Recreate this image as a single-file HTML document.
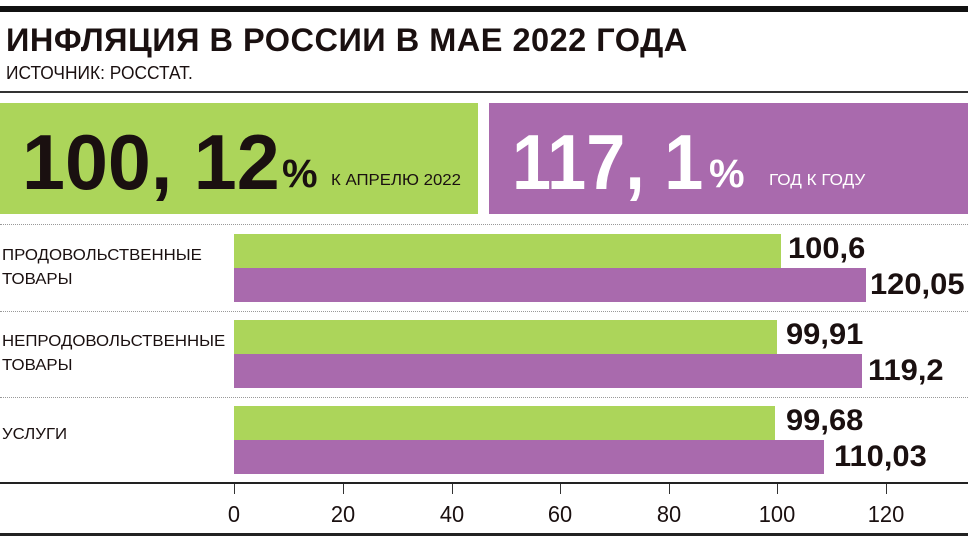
<!DOCTYPE html>
<html><head><meta charset="utf-8"><style>
body{margin:0;width:968px;height:544px;background:#fff;position:relative;overflow:hidden;font-family:"Liberation Sans","DejaVu Sans",sans-serif;color:#1a1010}
div{position:absolute}
.g{background:#acd55a}.p{background:#a96aad}
.lab{font-size:16px;line-height:24px;left:2px;transform:scaleX(1.05);transform-origin:left;white-space:nowrap}
.v{font-weight:bold;font-size:30px;transform:scaleX(1.03);transform-origin:left;white-space:nowrap}
.dot{left:0;width:968px;border-top:1px dotted #999;height:0}
.t{font-size:23px;top:501px;width:60px;text-align:center;transform:scaleX(0.95)}
.tk{top:484px;width:1px;height:10px;background:#333}
</style></head><body>
<div style="left:0;top:6px;width:968px;height:6px;background:#111"></div>
<div style="left:6px;top:22px;font-size:32.5px;font-weight:bold;letter-spacing:0.5px;white-space:nowrap">ИНФЛЯЦИЯ В РОССИИ В МАЕ 2022 ГОДА</div>
<div style="left:6px;top:63px;font-size:18px;white-space:nowrap;transform:scaleX(0.965);transform-origin:left">ИСТОЧНИК: РОССТАТ.</div>
<div style="left:0;top:91px;width:968px;height:2px;background:#333"></div>
<div class="g" style="left:0;top:103px;width:478px;height:111px"></div>
<div class="p" style="left:489px;top:103px;width:479px;height:111px"></div>
<div style="left:22px;top:122px;font-size:78px;font-weight:bold;line-height:80px;white-space:nowrap;transform:scaleX(0.99);transform-origin:left">100, 12</div>
<div style="left:282px;top:152px;font-size:40px;font-weight:bold;line-height:44px">%</div>
<div style="left:331px;top:172px;font-size:16px;white-space:nowrap;transform:scaleX(1.05);transform-origin:left">К АПРЕЛЮ 2022</div>
<div style="left:512px;top:122px;font-size:78px;font-weight:bold;line-height:80px;color:#fff;white-space:nowrap;transform:scaleX(0.9);transform-origin:left">117, 1</div>
<div style="left:709px;top:152px;font-size:40px;font-weight:bold;line-height:44px;color:#fff">%</div>
<div style="left:769px;top:172px;font-size:16px;color:#fff;white-space:nowrap;transform:scaleX(1.07);transform-origin:left">ГОД К ГОДУ</div>
<div class="dot" style="top:224px"></div>
<div class="dot" style="top:311px"></div>
<div class="dot" style="top:397px"></div>
<div class="lab" style="top:244px">ПРОДОВОЛЬСТВЕННЫЕ<br>ТОВАРЫ</div>
<div class="lab" style="top:330px">НЕПРОДОВОЛЬСТВЕННЫЕ<br>ТОВАРЫ</div>
<div class="lab" style="top:423px">УСЛУГИ</div>
<div class="g" style="left:234px;top:234px;width:547px;height:34px"></div>
<div class="p" style="left:234px;top:268px;width:632px;height:34px"></div>
<div class="g" style="left:234px;top:320px;width:543px;height:34px"></div>
<div class="p" style="left:234px;top:354px;width:628px;height:34px"></div>
<div class="g" style="left:234px;top:406px;width:541px;height:34px"></div>
<div class="p" style="left:234px;top:440px;width:590px;height:34px"></div>
<div class="v" style="left:788px;top:232px">100,6</div>
<div class="v" style="left:870px;top:268px">120,05</div>
<div class="v" style="left:786px;top:318px">99,91</div>
<div class="v" style="left:868px;top:354px">119,2</div>
<div class="v" style="left:786px;top:404px">99,68</div>
<div class="v" style="left:834px;top:440px">110,03</div>
<div style="left:0;top:482px;width:968px;height:2px;background:#222"></div>
<div class="tk" style="left:234px"></div><div class="tk" style="left:343px"></div><div class="tk" style="left:452px"></div><div class="tk" style="left:560px"></div><div class="tk" style="left:669px"></div><div class="tk" style="left:777px"></div><div class="tk" style="left:886px"></div>
<div class="t" style="left:204px">0</div><div class="t" style="left:313px">20</div><div class="t" style="left:422px">40</div><div class="t" style="left:530px">60</div><div class="t" style="left:649px;left:639px">80</div><div class="t" style="left:747px">100</div><div class="t" style="left:856px">120</div>
<div style="left:0;top:533px;width:968px;height:3px;background:#222"></div>
</body></html>
